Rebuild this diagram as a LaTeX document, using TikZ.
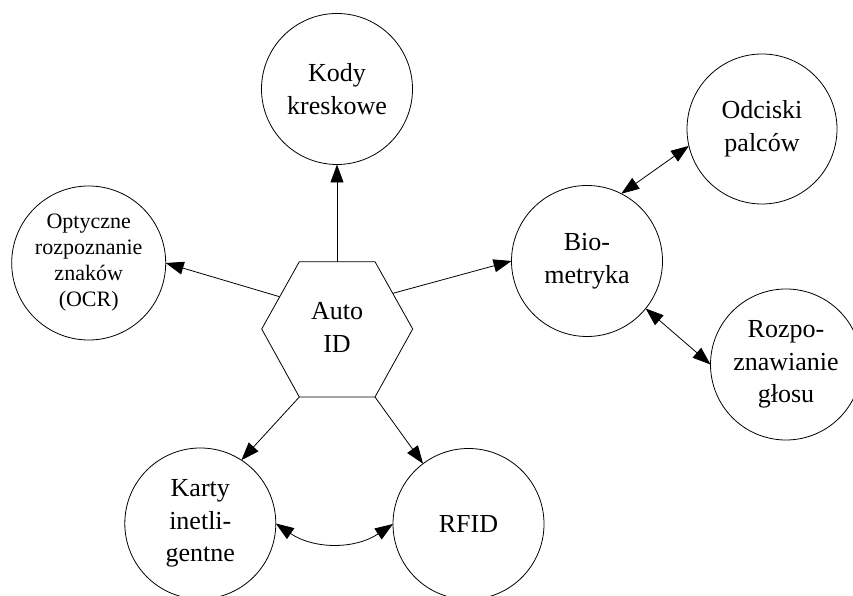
\documentclass[tikz,border=0pt]{standalone}
\usepackage{fontspec}
\setmainfont{Liberation Serif}
\usetikzlibrary{arrows.meta}
\begin{document}
\begin{tikzpicture}[x=1pt,y=1pt,
  bub/.style={circle,draw,line width=0.8pt,inner sep=0pt,outer sep=0pt,align=center,
    font=\fontsize{26}{32.5}\selectfont},
  smalltext/.style={font=\fontsize{22}{26}\selectfont},
  tip/.tip={Triangle[length=18pt,width=13pt]},
  conn/.style={line width=0.8pt,-tip},
  bconn/.style={line width=0.8pt,tip-tip}]
\useasboundingbox (0,0) rectangle (853,596);
\clip (0,0) rectangle (853,596);

% hexagon
\coordinate (hW)  at (261.7,267);
\coordinate (hNW) at (299.3,334.3);
\coordinate (hNE) at (375,334.3);
\coordinate (hE)  at (412.7,267);
\coordinate (hSE) at (375,199);
\coordinate (hSW) at (299.3,199);
\draw[line width=0.8pt] (hW) -- (hNW) -- (hNE) -- (hE) -- (hSE) -- (hSW) -- cycle;
\node[align=center,font=\fontsize{26}{32.5}\selectfont] (auto) at (337,268.5) {Auto\\ID};
\coordinate (hTop) at (337,334.3);
\coordinate (hOCR) at (279.5,299.3);
\coordinate (hBio) at (393,302.7);

% circles
\node[bub,minimum size=151pt] (kody)  at (337,507)   {Kody\\kreskowe};
\node[bub,minimum size=150pt] (odc)   at (762,467)   {Odciski\\palców};
\node[bub,smalltext,minimum size=154pt] (ocr) at (88.7,333) {Optyczne\\rozpoznanie\\znaków\\(OCR)};
\node[bub,minimum size=151pt] (bio)   at (587,335)   {Bio-\\metryka};
\node[bub,minimum size=151pt] (rozpo) at (786,231.5) {Rozpo-\\znawianie\\głosu};
\node[bub,minimum size=151pt] (karty) at (200.3,72.5) {Karty\\inetli-\\gentne};
\node[bub,minimum size=151pt] (rfid)  at (468.5,72)  {RFID};

% connectors
\draw[conn] (hTop) -- (kody.south);
\draw[conn] (hOCR) -- (ocr.east);
\draw[conn] (hBio) -- (bio.west);
\draw[conn] (hSW) -- (karty.57);
\draw[conn] (hSE) -- (rfid.127);
\draw[bconn] (bio.63) -- (odc.193);
\draw[bconn] (bio.-39) -- (rozpo.west);
\draw[bconn] (karty.east) to[bend right=34] (rfid.west);
\end{tikzpicture}
\end{document}
